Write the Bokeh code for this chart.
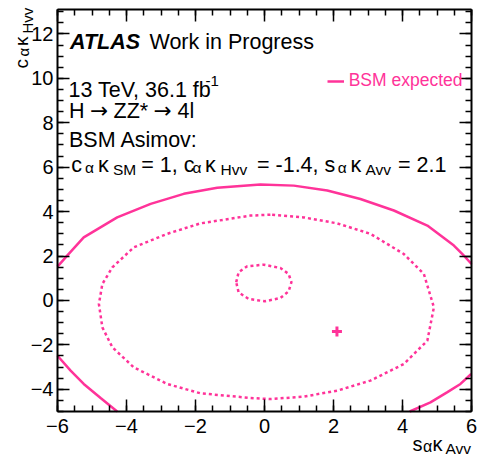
import math
from bokeh.plotting import figure
from bokeh.models import FixedTicker, LinearAxis, Label, Legend, LegendItem, Range1d
from bokeh.embed import file_html
from bokeh.resources import INLINE

PINK = "#ff3399"
FONT = "Liberation Sans"

# ---------------- data ----------------
x_ticks = [-6, -4, -2, 0, 2, 4, 6]
x_tick_labels = ["\u22126", "\u22124", "\u22122", "0", "2", "4", "6"]
y_ticks = [-4, -2, 0, 2, 4, 6, 8, 10, 12]
y_tick_labels = ["\u22124", "\u22122", "0", "2", "4", "6", "8", "10", "12"]
x_minor = [-6, -5.5, -5, -4.5, -4, -3.5, -3, -2.5, -2, -1.5, -1, -0.5, 0,
           0.5, 1, 1.5, 2, 2.5, 3, 3.5, 4, 4.5, 5, 5.5, 6]
y_minor = [-5, -4.5, -4, -3.5, -3, -2.5, -2, -1.5, -1, -0.5, 0, 0.5, 1, 1.5, 2,
           2.5, 3, 3.5, 4, 4.5, 5, 5.5, 6, 6.5, 7, 7.5, 8, 8.5, 9, 9.5, 10,
           10.5, 11, 11.5, 12, 12.5, 13]

# BSM expected contour (solid), visible pieces
bsm_up_x = [-6.0, -5.72, -5.24, -4.27, -3.30, -2.34, -1.37, -0.12, 0.85, 1.82, 2.78, 3.75, 4.72, 5.49, 5.78, 6.0]
bsm_up_y = [1.52, 2.02, 2.84, 3.74, 4.35, 4.80, 5.07, 5.22, 5.17, 4.95, 4.57, 4.05, 3.37, 2.47, 2.02, 1.64]
bsm_lo_left_x = [-6.0, -5.62, -5.24, -4.75, -4.27]
bsm_lo_left_y = [-2.49, -3.16, -3.76, -4.39, -5.0]
bsm_lo_right_x = [4.21, 4.81, 5.29, 5.68, 5.99]
bsm_lo_right_y = [-5.0, -4.59, -4.14, -3.76, -3.31]

# outer dotted contour
outer_x = [0.17, -0.41, -1.86, -2.82, -3.79, -4.41, -4.70, -4.80, -4.70, -4.41, -3.79, -2.82, -1.86,
           -0.41, 0.17, 1.14, 2.11, 3.07, 4.04, 4.72, 4.91, 4.62, 4.04, 3.07, 2.11, 1.14]
outer_y = [3.86, 3.82, 3.47, 3.00, 2.39, 1.49, 0.74, -0.16, -1.21, -2.11, -3.01, -3.76, -4.18,
           -4.39, -4.44, -4.33, -4.06, -3.61, -2.86, -1.81, -0.31, 1.19, 2.09, 3.00, 3.47, 3.74]

# inner dotted contour
inner_x = [-0.82, -0.75, -0.50, -0.02, 0.46, 0.70, 0.78, 0.70, 0.46, 0.01, -0.46, -0.75]
inner_y = [0.82, 1.27, 1.54, 1.61, 1.46, 1.19, 0.82, 0.41, 0.11, -0.04, 0.07, 0.36]

# BSM Asimov point
asimov_x = [2.1]
asimov_y = [-1.4]

# ---------------- figure ----------------
X0, X1, Y0, Y1 = -6.0, 6.0, -5.0, 13.1
W, H = 477, 456
BL, BR, BT, BB = 57, 6, 9, 45           # plot box inside the canvas
PPX = (W - BL - BR) / (X1 - X0)         # px per x unit
PPY = (H - BT - BB) / (Y1 - Y0)         # px per y unit

p = figure(width=W, height=H,
           x_range=Range1d(X0 - BL / PPX, X1 + BR / PPX),
           y_range=Range1d(Y0 - BB / PPY, Y1 + BT / PPY),
           output_backend="svg", toolbar_location=None,
           min_border_left=0, min_border_right=0, min_border_top=0, min_border_bottom=0)
p.grid.visible = False
p.outline_line_color = None
p.background_fill_color = "white"
p.border_fill_color = "white"


def style_axis(ax, ticks, minors, labels, show, loc, bounds):
    ax.ticker = FixedTicker(ticks=ticks, minor_ticks=minors)
    ax.fixed_location = loc
    ax.bounds = bounds
    ax.major_tick_in = 12
    ax.major_tick_out = 0
    ax.minor_tick_in = 6
    ax.minor_tick_out = 0
    ax.axis_line_width = 2
    ax.major_tick_line_width = 1.5
    ax.minor_tick_line_width = 1.5
    ax.axis_line_color = "black"
    ax.major_tick_line_color = "black"
    ax.minor_tick_line_color = "black"
    ax.axis_label = None
    if show:
        ax.major_label_overrides = {t: l for t, l in zip(ticks, labels)}
        ax.major_label_text_font = FONT
        ax.major_label_text_font_size = "20px"
        ax.major_label_text_color = "black"
    else:
        ax.major_label_text_color = None
        ax.major_label_text_alpha = 0


style_axis(p.xaxis[0], x_ticks, x_minor, x_tick_labels, True, Y0, (X0, X1))
p.xaxis[0].major_label_standoff = 7
style_axis(p.yaxis[0], y_ticks, y_minor, y_tick_labels, True, X0, (Y0, Y1))
p.yaxis[0].major_label_standoff = 4

top = LinearAxis()
style_axis(top, x_ticks, x_minor, x_tick_labels, False, Y1, (X0, X1))
p.add_layout(top, "above")
right = LinearAxis()
style_axis(right, y_ticks, y_minor, y_tick_labels, False, X1, (Y0, Y1))
p.add_layout(right, "right")

# ---------------- contours ----------------
r_up = p.line(bsm_up_x, bsm_up_y, line_color=PINK, line_width=2.5)
p.line(bsm_lo_left_x, bsm_lo_left_y, line_color=PINK, line_width=2.5)
p.line(bsm_lo_right_x, bsm_lo_right_y, line_color=PINK, line_width=2.5)
p.patch(outer_x, outer_y, fill_color=None, line_color=PINK, line_width=2.5, line_dash="3 3")
p.patch(inner_x, inner_y, fill_color=None, line_color=PINK, line_width=2.5, line_dash="3 3")
p.scatter(asimov_x, asimov_y, marker="cross", size=10, line_width=3, line_color=PINK)

# ---------------- texts ----------------
def dx(px):
    return X0 + (px - BL) / PPX


def dy(py):
    return Y1 - (py - BT) / PPY


def txt(s, px, py, size, style="normal", angle=0.0, color="black", font=FONT):
    p.add_layout(Label(x=dx(px), y=dy(py), text=s, text_font=font, text_font_size=size,
                       text_font_style=style, text_color=color, text_align="left",
                       text_baseline="alphabetic", angle=angle))


MAIN = "21.5px"
SUB = "15.5px"
txt("ATLAS", 69.5, 41, MAIN, "bold italic")
txt("Work in Progress", 149, 41, MAIN)
txt("13 TeV, 36.1 fb", 68, 89, MAIN)
txt("-1", 205, 80, "15px")
txt("H", 68.5, 110, MAIN)
txt("\u2192", 89.5, 110, MAIN, font="DejaVu Sans")
txt("ZZ*", 113, 110, MAIN)
txt("\u2192", 153, 110, MAIN, font="DejaVu Sans")
txt("4l", 177, 110, MAIN)
txt("BSM Asimov:", 68.5, 139, MAIN)

# c_a k_SM = 1, c_a k_Hvv = -1.4, s_a k_Avv = 2.1
txt("c", 70.8, 164, MAIN)
txt("\u03b1", 84.5, 167, SUB)
txt("\u03ba", 97.5, 164, MAIN)
txt("SM", 112.5, 169, SUB)
txt("= 1, c", 140.8, 164, MAIN)
txt("\u03b1", 192, 167, SUB)
txt("\u03ba", 204.5, 164, MAIN)
txt("Hvv", 220, 169, SUB)
txt("= -1.4, s", 256.5, 164, MAIN)
txt("\u03b1", 337.3, 167, SUB)
txt("\u03ba", 350, 164, MAIN)
txt("Avv", 365, 169, SUB)
txt("= 2.1", 397.5, 164, MAIN)

# axis titles
txt("s", 412, 443, "20px")
txt("\u03b1", 422.5, 446, "16px")
txt("\u03ba", 432, 443, "20px")
txt("Avv", 445, 448, "15.5px")

R = math.pi / 2
txt("c", 20.5, 68, "19px", angle=R)
txt("\u03b1", 22.5, 56, "15px", angle=R)
txt("\u03ba", 20.5, 45.5, "19px", angle=R)
txt("Hvv", 27, 33, "15px", angle=R)

# ---------------- legend ----------------
legend = Legend(items=[LegendItem(label="BSM expected", renderers=[r_up])],
                location=(326.7, H - 81 - 10),
                glyph_width=17, glyph_height=20, label_height=20, label_standoff=5,
                padding=0, margin=0, border_line_alpha=0, background_fill_alpha=0,
                label_text_font=FONT, label_text_font_size="17.5px", label_text_color=PINK)
p.add_layout(legend)

open("out.html", "w").write(file_html(p, INLINE))
